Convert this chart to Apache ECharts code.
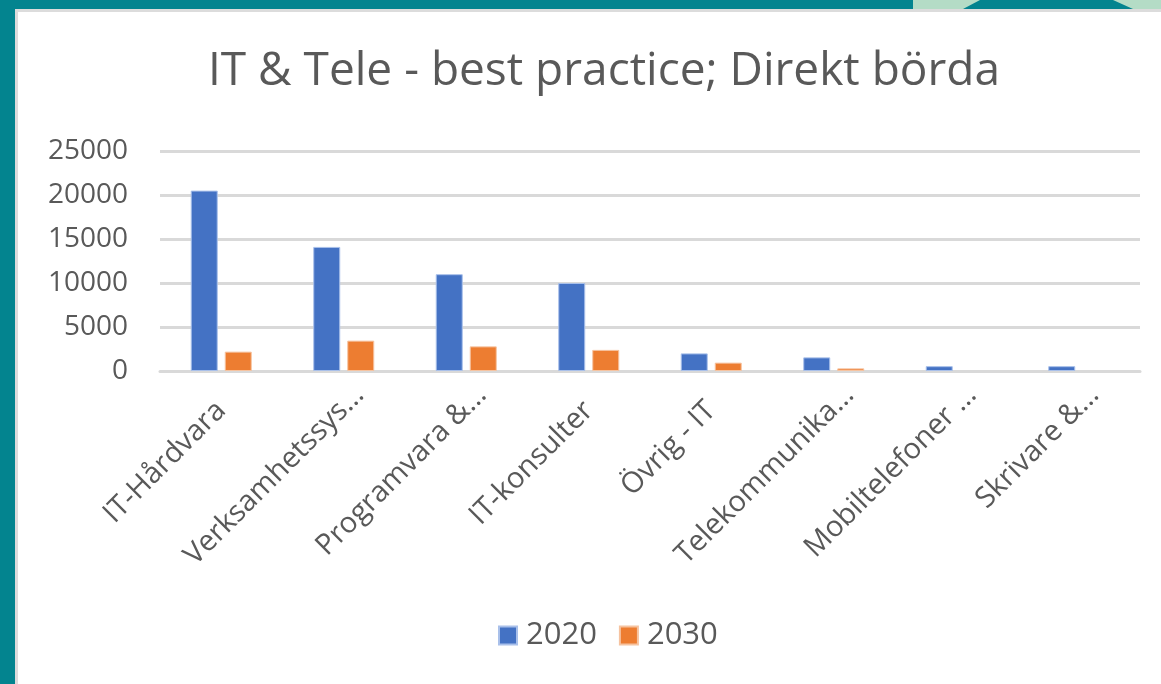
<!DOCTYPE html>
<html>
<head>
<meta charset="utf-8">
<script src="https://cdn.jsdelivr.net/npm/echarts@6/dist/echarts.min.js"></script>
<style>
  html, body { margin: 0; padding: 0; background: #03848f; }
  #chart { width: 1161px; height: 684px; }
</style>
</head>
<body>
<div id="chart"></div>
<script>
// Category names (as shortened on the axis)
const categories = [
  'IT-Hårdvara',
  'Verksamhetssys…',
  'Programvara &…',
  'IT-konsulter',
  'Övrig - IT',
  'Telekommunika…',
  'Mobiltelefoner …',
  'Skrivare &…'
];

// Direct burden per category
const values2020 = [20500, 14100, 11000, 10000, 2000, 1550, 550, 550];
const values2030 = [2200, 3450, 2800, 2400, 950, 300, 0, 0];

const seriesNames = ['2020', '2030'];
const yTicks = { min: 0, max: 25000, step: 5000 };

const FONT = '"Open Sans", "Noto Sans", sans-serif';
const TEXT = '#595959';

// zero-height bars get no outline so nothing is drawn for them
function barData(values) {
  return values.map(v => v === 0 ? { value: 0, itemStyle: { borderWidth: 0, opacity: 0 } } : v);
}

// shortened names sit a little further out along their own direction
const axisData = categories.map(name =>
  name.endsWith('…') ? { value: name, textStyle: { padding: [0, -22, 0, 0] } } : name
);

const chart = echarts.init(document.getElementById('chart'), null, { renderer: 'canvas' });

chart.setOption({
  backgroundColor: '#03848f',
  animation: false,
  graphic: [
    // slide panel with a thin grey frame
    { type: 'rect', z: -10, shape: { x: 15, y: 9, width: 1161, height: 700 }, style: { fill: '#dcdcdc' } },
    { type: 'rect', z: -9, shape: { x: 18, y: 12, width: 1161, height: 700 }, style: { fill: '#ffffff' } },
    // decorative shape at the top right
    { type: 'rect', z: -9, shape: { x: 913, y: 0, width: 260, height: 9 }, style: { fill: '#b4dcc6' } },
    { type: 'polygon', z: -8, shape: { points: [[980, 0], [1113, 0], [1133, 9], [963, 9]] }, style: { fill: '#03848f' } }
  ],
  title: {
    text: 'IT & Tele - best practice; Direkt börda',
    left: 599,
    top: 44,
    textAlign: 'center',
    textStyle: { fontFamily: FONT, fontSize: 46, fontWeight: 'normal', color: TEXT }
  },
  legend: {
    data: seriesNames,
    bottom: 28,
    left: 493,
    itemWidth: 18,
    itemHeight: 18,
    itemGap: 22,
    icon: 'rect',
    textStyle: { fontFamily: FONT, fontSize: 31, color: TEXT, padding: [0, 0, 0, 4] }
  },
  grid: { left: 160, right: 21, top: 151, bottom: 313, containLabel: false },
  xAxis: {
    type: 'category',
    data: axisData,
    axisLine: { lineStyle: { color: '#d9d9d9', width: 3 } },
    axisTick: { show: false },
    axisLabel: {
      interval: 0,
      rotate: 45,
      margin: 35,
      fontFamily: FONT,
      fontSize: 29,
      color: TEXT
    }
  },
  yAxis: {
    type: 'value',
    min: yTicks.min,
    max: yTicks.max,
    interval: yTicks.step,
    axisLine: { show: false },
    axisTick: { show: false },
    splitLine: { lineStyle: { color: '#d9d9d9', width: 3 } },
    axisLabel: {
      fontFamily: FONT,
      fontSize: 28,
      color: TEXT,
      margin: 32,
      formatter: v => String(v)
    }
  },
  series: [
    {
      name: seriesNames[0],
      type: 'bar',
      data: barData(values2020),
      barWidth: 27,
      barGap: '26%',
      itemStyle: { color: '#4472c4', borderColor: '#a9c0ea', borderWidth: 1 }
    },
    {
      name: seriesNames[1],
      type: 'bar',
      data: barData(values2030),
      barWidth: 27,
      barGap: '26%',
      itemStyle: { color: '#ed7d31', borderColor: '#f6c3a0', borderWidth: 1 }
    }
  ]
});
</script>
</body>
</html>
